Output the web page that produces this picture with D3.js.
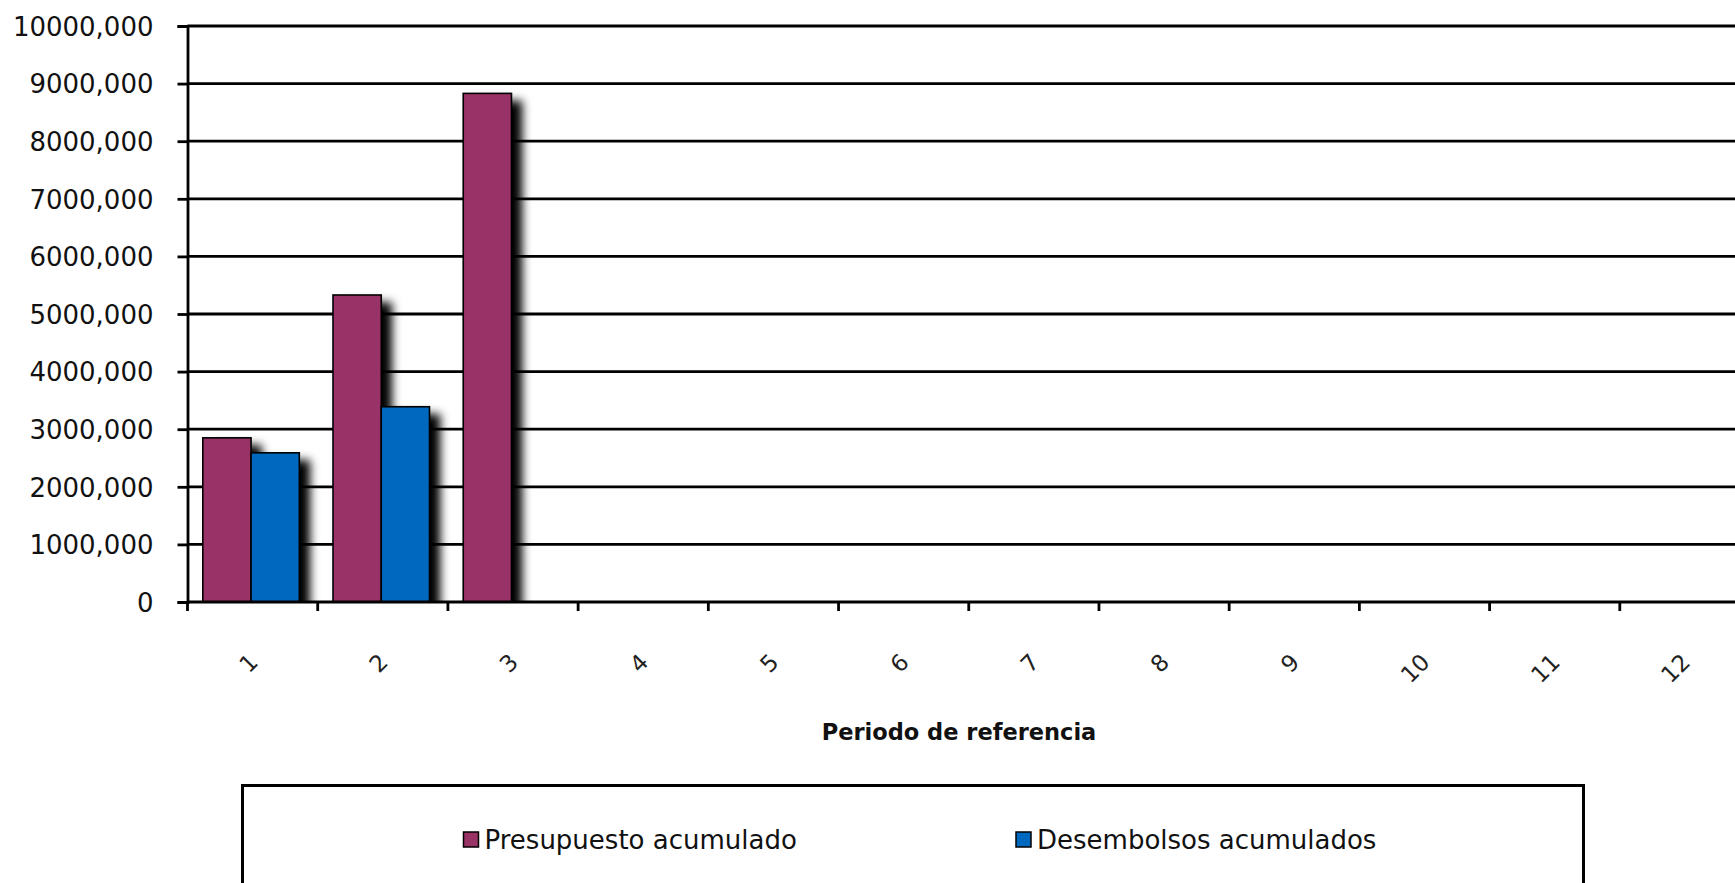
<!DOCTYPE html>
<html>
<head>
<meta charset="utf-8">
<script src="https://cdn.jsdelivr.net/npm/d3@7/dist/d3.min.js"></script>
<style>
  html, body { margin: 0; padding: 0; background: #fff; }
  svg { display: block; }
</style>
</head>
<body>
<svg id="chart" width="1735" height="883"></svg>
<script>
// ---- data ----
const categories = ["1", "2", "3", "4", "5", "6", "7", "8", "9", "10", "11", "12"];
const seriesNames = ["Presupuesto acumulado", "Desembolsos acumulados"];
const presupuesto = [2850000, 5330000, 8830000, null, null, null, null, null, null, null, null, null];
const desembolsos = [2590000, 3390000, null, null, null, null, null, null, null, null, null, null];
const yTickValues = [0, 1000000, 2000000, 3000000, 4000000, 5000000, 6000000, 7000000, 8000000, 9000000, 10000000];
const yTickLabels = ["0", "1000,000", "2000,000", "3000,000", "4000,000", "5000,000", "6000,000", "7000,000", "8000,000", "9000,000", "10000,000"];
const seriesColors = ["#993366", "#0068bf"];
const axisTitle = "Periodo de referencia";

(function () {
const svg = d3.select("#chart");
const W = 1735, H = 883;
const pLeft = 187.5, pRight = 1750, pTop = 26, pBottom = 602;

const x = d3.scaleBand().domain(categories).range([pLeft, pRight]).paddingInner(0).paddingOuter(0);
const xs = d3.scaleBand().domain(seriesNames).range([15.3, 111.8]).padding(0);
const y = d3.scaleLinear().domain([0, 10000000]).range([pBottom, pTop]);

const defs = svg.append("defs");
const f = defs.append("filter").attr("id", "shadow")
  .attr("x", "-50%").attr("y", "-20%").attr("width", "220%").attr("height", "150%");
f.append("feGaussianBlur").attr("in", "SourceAlpha").attr("stdDeviation", 5).attr("result", "b");
f.append("feOffset").attr("in", "b").attr("dx", 10).attr("dy", 8).attr("result", "o");
const m = f.append("feMerge");
m.append("feMergeNode").attr("in", "o");
m.append("feMergeNode").attr("in", "SourceGraphic");

defs.append("clipPath").attr("id", "plotclip")
  .append("rect").attr("x", pLeft).attr("y", 0).attr("width", W).attr("height", pBottom);

// gridlines
svg.append("g")
  .selectAll("line").data(yTickValues.filter(d => d > 0)).join("line")
  .attr("x1", pLeft).attr("x2", W + 10)
  .attr("y1", d => y(d)).attr("y2", d => y(d))
  .attr("stroke", "#000").attr("stroke-width", 2.8);

// bars
const rows = categories.map((c, i) => ({ cat: c, vals: [presupuesto[i], desembolsos[i]] }));
const barsG = svg.append("g").attr("clip-path", "url(#plotclip)");
rows.forEach(r => {
  r.vals.forEach((v, si) => {
    if (v == null) return;
    barsG.append("rect")
      .attr("x", x(r.cat) + xs(seriesNames[si]))
      .attr("y", y(v))
      .attr("width", xs.bandwidth())
      .attr("height", y(0) - y(v))
      .attr("fill", seriesColors[si])
      .attr("stroke", "#000").attr("stroke-width", 1.6)
      .attr("filter", "url(#shadow)");
  });
});

// y axis
const yAxis = d3.axisLeft(y).tickValues(yTickValues).tickSize(10).tickPadding(24)
  .tickFormat((d, i) => yTickLabels[i]);
const yg = svg.append("g").attr("transform", `translate(${pLeft},0)`).call(yAxis);
yg.select(".domain").attr("stroke", "#000").attr("stroke-width", 2.8);
yg.selectAll(".tick line").attr("stroke", "#000").attr("stroke-width", 2.8);
yg.selectAll(".tick text")
  .attr("font-family", "DejaVu Sans, sans-serif").attr("font-size", 26)
  .attr("fill", "#111").attr("dy", "0.36em");

// x axis
const xTickPositions = d3.range(categories.length + 1).map(i => pLeft + i * x.step());
svg.append("line").attr("x1", pLeft).attr("x2", W + 10).attr("y1", pBottom).attr("y2", pBottom)
  .attr("stroke", "#000").attr("stroke-width", 2.8);
svg.append("g").selectAll("line").data(xTickPositions).join("line")
  .attr("x1", d => d).attr("x2", d => d).attr("y1", pBottom).attr("y2", pBottom + 9)
  .attr("stroke", "#000").attr("stroke-width", 2.8);
const xAxis = d3.axisBottom(x).tickSize(0).tickPadding(0);
const xg = svg.append("g").attr("transform", `translate(0,${pBottom})`).call(xAxis);
xg.select(".domain").remove();
xg.selectAll(".tick text")
  .attr("font-family", "DejaVu Sans, sans-serif").attr("font-size", 23)
  .attr("fill", "#222")
  .attr("text-anchor", "end")
  .attr("dy", null)
  .attr("y", null)
  .attr("dominant-baseline", "central")
  .attr("transform", "translate(1,56) rotate(-45)");

// axis title
svg.append("text")
  .attr("x", 959).attr("y", 732)
  .attr("text-anchor", "middle").attr("dominant-baseline", "central")
  .attr("font-family", "DejaVu Sans, sans-serif").attr("font-weight", "bold")
  .attr("font-size", 22.5).attr("fill", "#111")
  .text(axisTitle);

// legend
svg.append("rect").attr("x", 242.5).attr("y", 785.5).attr("width", 1341).attr("height", 140)
  .attr("fill", "none").attr("stroke", "#000").attr("stroke-width", 3);
const legendX = [463.5, 1016];
const lg = svg.append("g").selectAll("g").data(seriesNames).join("g")
  .attr("transform", (d, i) => `translate(${legendX[i]},832)`);
lg.append("rect").attr("width", 15).attr("height", 15)
  .attr("fill", (d, i) => seriesColors[i]).attr("stroke", "#000").attr("stroke-width", 1.5);
lg.append("text").attr("x", 21).attr("y", 8).attr("dominant-baseline", "central")
  .attr("font-family", "DejaVu Sans, sans-serif").attr("font-size", 26).attr("fill", "#111")
  .text(d => d);
})();
</script>
</body>
</html>
